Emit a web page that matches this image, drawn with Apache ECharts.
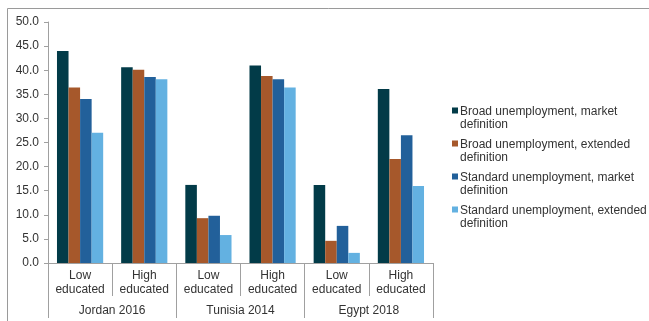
<!DOCTYPE html>
<html>
<head>
<meta charset="utf-8">
<script src="https://cdn.jsdelivr.net/npm/echarts@6/dist/echarts.min.js"></script>
<style>
  html, body { margin: 0; padding: 0; background: #fff; }
  #chart { width: 649px; height: 321px; }
</style>
</head>
<body>
<div id="chart"></div>
<script>
// Unemployment rates (%) by education level, three countries
const categories = ['Low\neducated', 'High\neducated', 'Low\neducated', 'High\neducated', 'Low\neducated', 'High\neducated'];
const groups = ['Jordan 2016', 'Tunisia 2014', 'Egypt 2018'];

const seriesNames = [
  'Broad unemployment, market\ndefinition',
  'Broad unemployment, extended\ndefinition',
  'Standard unemployment, market\ndefinition',
  'Standard unemployment, extended\ndefinition'
];

const broadMarket     = [44.0, 40.6, 16.2, 41.0, 16.2, 36.1];
const broadExtended   = [36.4, 40.1, 9.3, 38.8, 4.6, 21.6];
const standardMarket  = [34.0, 38.6, 9.8, 38.1, 7.7, 26.5];
const standardExtended = [27.0, 38.1, 5.8, 36.4, 2.1, 16.0];

const yTicks = { min: 0, max: 50, interval: 5 };

const colors = ['#023b48', '#a6582b', '#22609a', '#63b1e1'];
const values = [broadMarket, broadExtended, standardMarket, standardExtended];

const font = 'Liberation Sans, Arial, sans-serif';
const axisGray = '#a0a0a0';
const textColor = '#333333';

const chart = echarts.init(document.getElementById('chart'), null, { renderer: 'canvas' });

chart.setOption({
  animation: false,
  backgroundColor: '#ffffff',
  color: colors,
  textStyle: { fontFamily: font },
  graphic: [{
    type: 'rect',
    shape: { x: 7.5, y: 8.5, width: 800, height: 400 },
    style: { fill: 'none', stroke: '#9a9a9a', lineWidth: 1 },
    silent: true,
    z: -1
  }],
  grid: { left: 48, right: 216, top: 22, bottom: 58, containLabel: false },
  legend: {
    orient: 'vertical',
    left: 452,
    top: 105,
    padding: 0,
    itemGap: 7,
    itemWidth: 6,
    itemHeight: 22,
    icon: 'path://M0 1H6V7H0Z M0 21.99H6V22H0Z',
    textStyle: {
      fontFamily: font,
      fontSize: 12,
      lineHeight: 13,
      color: textColor,
      padding: [0, 0, 0, -3]
    },
    data: seriesNames
  },
  xAxis: [{
    type: 'category',
    data: categories,
    position: 'bottom',
    axisLine: { show: true, lineStyle: { color: axisGray, width: 1 } },
    axisTick: { show: true, interval: 0, length: 33, lineStyle: { color: axisGray } },
    axisLabel: {
      interval: 0,
      margin: 6,
      fontSize: 12,
      lineHeight: 14,
      color: textColor,
      fontFamily: font
    }
  }, {
    type: 'category',
    data: groups,
    position: 'bottom',
    offset: 0,
    axisLine: { show: false },
    axisTick: { show: true, interval: 0, length: 55, lineStyle: { color: axisGray } },
    axisLabel: {
      interval: 0,
      margin: 42,
      fontSize: 12,
      color: textColor,
      fontFamily: font
    }
  }],
  yAxis: {
    type: 'value',
    min: yTicks.min,
    max: yTicks.max,
    interval: yTicks.interval,
    axisLine: { show: true, lineStyle: { color: axisGray, width: 1 } },
    axisTick: { show: true, length: 4, lineStyle: { color: axisGray } },
    splitLine: { show: false },
    axisLabel: {
      margin: 9,
      fontSize: 12,
      color: textColor,
      fontFamily: font,
      formatter: v => v.toFixed(1)
    }
  },
  series: seriesNames.map((name, i) => ({
    name: name,
    type: 'bar',
    xAxisIndex: 0,
    data: values[i],
    barGap: '0%',
    barCategoryGap: '28%',
    itemStyle: { color: colors[i] }
  }))
});
</script>
</body>
</html>
